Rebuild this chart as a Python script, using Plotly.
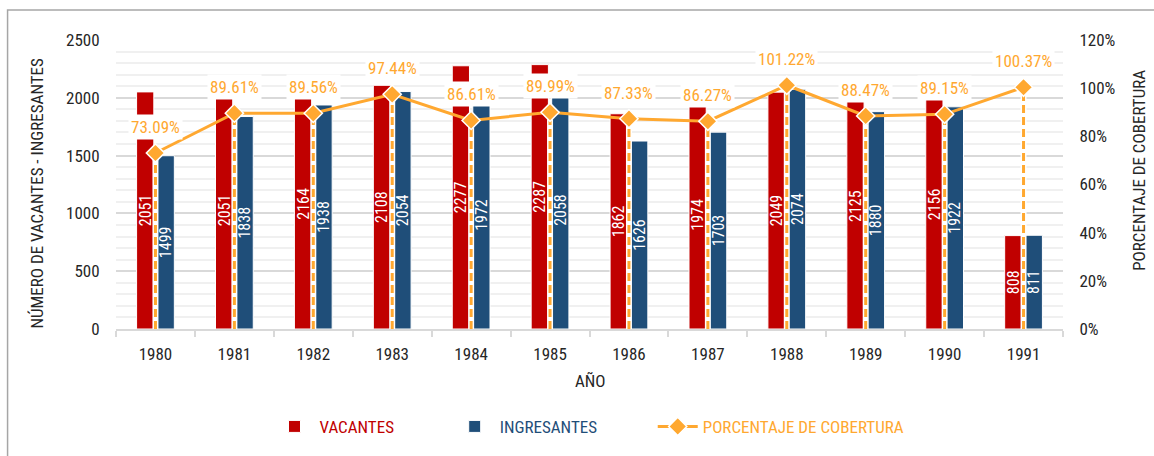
import plotly.graph_objects as go

years = ["1980", "1981", "1982", "1983", "1984", "1985", "1986", "1987", "1988", "1989", "1990", "1991"]
vacantes = [2051, 2051, 2164, 2108, 2277, 2287, 1862, 1974, 2049, 2125, 2156, 808]
ingresantes = [1499, 1838, 1938, 2054, 1972, 2058, 1626, 1703, 2074, 1880, 1922, 811]
porcentaje = [73.09, 89.61, 89.56, 97.44, 86.61, 89.99, 87.33, 86.27, 101.22, 88.47, 89.15, 100.37]

RED = "#C00000"
BLUE = "#1F4E79"
ORANGE = "#FFA830"
FONT = "Liberation Sans Narrow, Arial Narrow, Roboto Condensed, Liberation Sans, sans-serif"
NB = "\u00a0"

pct = [p / 100 for p in porcentaje]

fig = go.Figure()

fig.add_trace(go.Bar(
    x=years, y=vacantes, name=f"<span style='color:{RED}'>VACANTES</span>" + NB * 13,
    marker=dict(color=RED, line=dict(color="white", width=1)),
    text=[str(v) for v in vacantes], textposition="inside", insidetextanchor="middle",
    textangle=-90, constraintext="none",
    textfont=dict(color="white", size=16, family=FONT),
))
fig.add_trace(go.Bar(
    x=years, y=ingresantes, name=f"<span style='color:{BLUE}'>INGRESANTES</span>" + NB * 13,
    marker=dict(color=BLUE, line=dict(color="white", width=1)),
    text=[str(v) for v in ingresantes], textposition="inside", insidetextanchor="middle",
    textangle=-90, constraintext="none",
    textfont=dict(color="white", size=16, family=FONT),
))

# drop lines
dx, dy = [], []
for yr, p in zip(years, pct):
    dx += [yr, yr, None]
    dy += [0, p, None]
fig.add_trace(go.Scatter(x=dx, y=dy, yaxis="y2", mode="lines",
                         line=dict(color="white", width=6), showlegend=False, hoverinfo="skip"))
fig.add_trace(go.Scatter(x=dx, y=dy, yaxis="y2", mode="lines",
                         line=dict(color=ORANGE, width=3, dash="8px,4px"), showlegend=False, hoverinfo="skip"))

fig.add_trace(go.Scatter(
    x=years, y=pct, yaxis="y2", mode="lines+markers",
    name=f"<span style='color:{ORANGE}'>PORCENTAJE DE COBERTURA</span>",
    line=dict(color=ORANGE, width=3),
    marker=dict(symbol="diamond", size=14, color=ORANGE, line=dict(color="white", width=1.5)),
))

for i, (p, lbl) in enumerate(zip(pct, porcentaje)):
    fig.add_annotation(x=i, y=p, yref="y2", xref="x", text=f"{lbl:.2f}%",
                       showarrow=False, yshift=26, bgcolor="white", borderpad=2,
                       font=dict(color=ORANGE, size=17, family=FONT))

# axis titles
fig.add_annotation(xref="paper", yref="paper", x=-0.083, y=0.47, xanchor="center", yanchor="middle",
                   text="NÚMERO DE VACANTES - INGRESANTES",
                   textangle=-90, showarrow=False, font=dict(size=17, color="#262626", family=FONT))
fig.add_annotation(xref="paper", yref="paper", x=1.08, y=0.55, xanchor="center", yanchor="middle",
                   text="PORCENTAJE DE COBERTURA",
                   textangle=-90, showarrow=False, font=dict(size=17, color="#262626", family=FONT))
fig.add_annotation(xref="paper", yref="paper", x=0.5008, y=-0.179, xanchor="center", yanchor="middle",
                   text="AÑO", showarrow=False, font=dict(size=17, color="#262626", family=FONT))

# chart border
fig.add_shape(type="rect", xref="paper", yref="paper", x0=-0.1145, y0=-0.45, x1=1.11, y1=1.1034,
              line=dict(color="#A6A6A6", width=1.5), fillcolor="rgba(0,0,0,0)", layer="below")

fig.update_layout(
    width=1154, height=456,
    margin=dict(l=115.5, r=91, t=40, b=126),
    paper_bgcolor="white", plot_bgcolor="white",
    barmode="group", bargap=0.48, bargroupgap=0.16,
    font=dict(family=FONT, size=17, color="#262626"),
    showlegend=True,
    legend=dict(orientation="h", x=0.5, xanchor="center", y=-0.334, yanchor="middle",
                font=dict(size=17, family=FONT), itemwidth=40, tracegroupgap=0),
    xaxis=dict(type="category", range=[-0.5, 11.5], autorange=False, automargin=False,
               showline=True, linecolor="#D9D9D9", linewidth=2,
               ticks="outside", tickson="boundaries", ticklen=6, tickcolor="#D9D9D9", tickwidth=2,
               ticklabelstandoff=9,
               tickfont=dict(size=17, color="#262626"), showgrid=False, tickangle=0),
    yaxis=dict(range=[0, 2500], dtick=500, showgrid=True, gridcolor="#D9D9D9", gridwidth=2,
               minor=dict(dtick=100, showgrid=True, gridcolor="#F0F0F0", gridwidth=2),
               zeroline=False, tickfont=dict(size=17, color="#262626"), ticks="outside", ticklen=12,
               tickcolor="rgba(0,0,0,0)", automargin=False),
    yaxis2=dict(range=[0, 1.2], dtick=0.2, tickformat=".0%", overlaying="y", side="right",
                showgrid=False, zeroline=False, tickfont=dict(size=17, color="#262626"),
                ticks="outside", ticklen=12, tickcolor="rgba(0,0,0,0)", automargin=False),
)

fig.write_html("out.html", config={"displayModeBar": False},
               post_script="document.body.style.margin='0';document.body.style.padding='0';")
